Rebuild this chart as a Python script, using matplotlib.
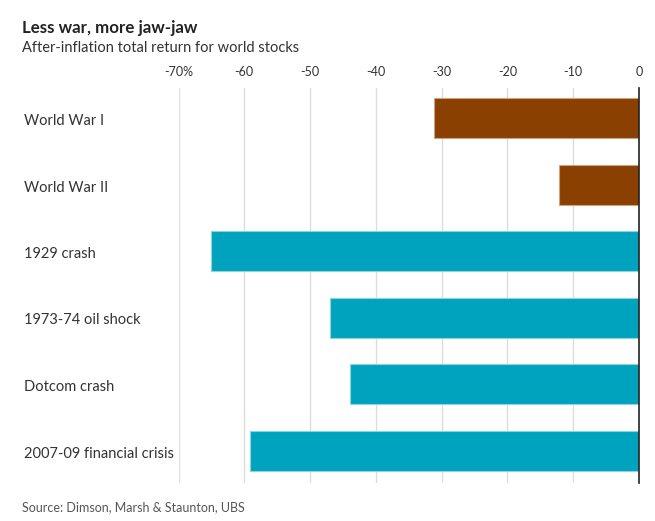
import matplotlib
matplotlib.use("Agg")
import matplotlib.pyplot as plt

categories = ["World War I", "World War II", "1929 crash", "1973-74 oil shock",
              "Dotcom crash", "2007-09 financial crisis"]
values = [-31.1, -12.1, -65.0, -47.0, -44.0, -59.1]
colors = ["#8A4000", "#8A4000", "#00A3BE", "#00A3BE", "#00A3BE", "#00A3BE"]
edges = ["#C9A383", "#C9A383", "#8FD3E0", "#8FD3E0", "#8FD3E0", "#8FD3E0"]
tick_vals = [-70, -60, -50, -40, -30, -20, -10, 0]
tick_labels = ["-70%", "-60", "-50", "-40", "-30", "-20", "-10", "0"]

plt.rcParams['font.family'] = ['Lato', 'DejaVu Sans']
W, H = 655, 521
fig = plt.figure(figsize=(W / 100, H / 100), dpi=100)
ax = fig.add_axes([178.5 / W, 1 - 483 / H, (639 - 178.5) / W, (483 - 88) / H])

ypos = list(range(len(categories)))
ax.barh(ypos, values, height=0.6, color=colors, edgecolor=edges, linewidth=0.8, zorder=2)
ax.set_xlim(-70, 0)
ax.set_ylim(5.48, -0.45)
ax.set_xticks(tick_vals)
ax.set_xticklabels(tick_labels)
ax.xaxis.tick_top()
ax.tick_params(axis='x', length=0, pad=7, labelsize=9, colors="#333333")
ax.set_yticks([])
for v in tick_vals[:-1]:
    ax.axvline(v, color="#DDDDDD", linewidth=1, zorder=1)
ax.axvline(0, color="#222222", linewidth=1.2, zorder=3, clip_on=False)
for s in ax.spines.values():
    s.set_visible(False)

for i, c in enumerate(categories):
    y_px = 121 + i * 66.5
    fig.text(24 / W, 1 - y_px / H, c, ha='left', va='center', fontsize=10.5, color="#333333")

fig.text(22 / W, 1 - 28 / H, "Less war, more jaw-jaw", ha='left', va='center',
         fontsize=12.2, fontweight='bold', color="#222222")
fig.text(22 / W, 1 - 48 / H, "After-inflation total return for world stocks", ha='left',
         va='center', fontsize=10.5, color="#333333")
fig.text(22 / W, 1 - 507 / H, "Source: Dimson, Marsh & Staunton, UBS", ha='left',
         va='center', fontsize=9, color="#555555")

fig.savefig("out.png", dpi=100, facecolor="white")
